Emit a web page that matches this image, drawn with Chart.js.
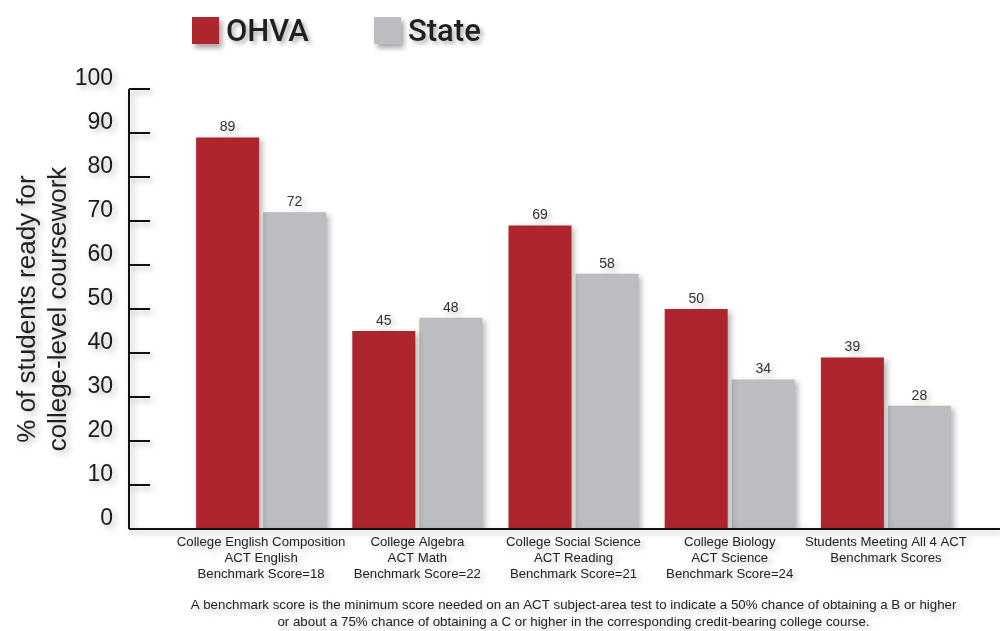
<!DOCTYPE html>
<html>
<head>
<meta charset="utf-8">
<script src="https://cdn.jsdelivr.net/npm/chart.js@4/dist/chart.umd.min.js"></script>
<style>
  body { margin: 0; background: #fff; }
  #wrap { position: relative; width: 1000px; height: 631px; }
  #legend { position: absolute; left: 0; top: 0; font-family: Roboto, "Liberation Sans", sans-serif; font-weight: 500; font-size: 31px; color: #231f20; }
  .item { position: absolute; top: 13px; height: 34px; display: flex; align-items: center; white-space: nowrap; text-shadow: 3px 3px 4px rgba(0,0,0,0.3); }
  .box { width: 27px; height: 27px; margin-right: 7px; box-shadow: 3px 4px 5px rgba(0,0,0,0.35); }
</style>
</head>
<body>
<div id="wrap">
  <canvas id="chart" width="1000" height="631"></canvas>
  <div id="legend"></div>
</div>
<script>
// donnees
const categories = [
  ['College English Composition', 'ACT English', 'Benchmark Score=18'],
  ['College Algebra', 'ACT Math', 'Benchmark Score=22'],
  ['College Social Science', 'ACT Reading', 'Benchmark Score=21'],
  ['College Biology', 'ACT Science', 'Benchmark Score=24'],
  ['Students Meeting All 4 ACT', 'Benchmark Scores']
];
const ohva = [89, 45, 69, 50, 39];
const state = [72, 48, 58, 34, 28];
const yTicks = [0, 10, 20, 30, 40, 50, 60, 70, 80, 90, 100];
const yTitle = ['% of students ready for', 'college-level coursework'];
const footnote = [
  'A benchmark score is the minimum score needed on an ACT subject-area test to indicate a 50% chance of obtaining a B or higher',
  'or about a 75% chance of obtaining a C or higher in the corresponding credit-bearing college course.'
];

const RED = '#af252d';
const GREY = '#bcbdc0';
const AXIS_X = 129;

// ombre portee sur tout le dessin
const shadowPlugin = {
  id: 'shadow',
  beforeDraw(chart) {
    const c = chart.ctx;
    c.shadowColor = 'rgba(0,0,0,0.30)';
    c.shadowBlur = 6;
    c.shadowOffsetX = 3;
    c.shadowOffsetY = 3;
  },
  afterDraw(chart) {
    const c = chart.ctx;
    c.shadowColor = 'rgba(0,0,0,0)';
    c.shadowBlur = 0;
    c.shadowOffsetX = 0;
    c.shadowOffsetY = 0;
  }
};

// axes: ligne verticale avec graduations vers l'interieur + ligne de base
const axesPlugin = {
  id: 'axes',
  afterDatasetsDraw(chart) {
    const c = chart.ctx;
    const y = chart.scales.y;
    const y0 = y.getPixelForValue(0);
    const yTop = y.getPixelForValue(100);
    c.save();
    c.strokeStyle = '#111';
    c.lineWidth = 2;
    c.beginPath();
    c.moveTo(AXIS_X, yTop);
    c.lineTo(AXIS_X, y0);
    c.moveTo(AXIS_X, y0);
    c.lineTo(chart.width, y0);
    y.ticks.forEach(t => {
      const py = y.getPixelForValue(t.value);
      c.moveTo(AXIS_X, py);
      c.lineTo(AXIS_X + 21, py);
    });
    c.stroke();

    // valeurs au-dessus des barres
    c.fillStyle = '#333';
    c.font = '14px "Liberation Sans", Arial, sans-serif';
    c.textAlign = 'center';
    c.textBaseline = 'bottom';
    chart.data.datasets.forEach((ds, i) => {
      chart.getDatasetMeta(i).data.forEach((bar, j) => {
        c.fillText(ds.data[j], bar.x, bar.y - 3);
      });
    });
    c.restore();
  }
};

const ctx = document.getElementById('chart').getContext('2d');
const chart = new Chart(ctx, {
  type: 'bar',
  data: {
    labels: categories,
    datasets: [
      { label: 'OHVA', data: ohva, backgroundColor: RED, borderWidth: 0 },
      { label: 'State', data: state, backgroundColor: GREY, borderWidth: 0 }
    ]
  },
  options: {
    responsive: false,
    animation: false,
    layout: { padding: { left: 0, right: 36, top: 89, bottom: 0 } },
    datasets: { bar: { categoryPercentage: 0.858, barPercentage: 0.94 } },
    plugins: {
      legend: { display: false },
      tooltip: { enabled: false },
      subtitle: {
        display: true,
        position: 'bottom',
        fullSize: false,
        text: footnote,
        color: '#222',
        font: { family: '"Liberation Sans", Arial, sans-serif', size: 13.3, lineHeight: '17px' },
        padding: 0
      }
    },
    scales: {
      x: {
        grid: { display: false, drawTicks: false },
        border: { display: false },
        ticks: {
          color: '#222',
          font: { family: '"Liberation Sans", Arial, sans-serif', size: 13.2, lineHeight: '16px' },
          padding: 5,
          maxRotation: 0,
          autoSkip: false
        },
        afterFit(scale) { scale.height = 68; }
      },
      y: {
        min: 0,
        max: 100,
        afterBuildTicks(scale) { scale.ticks = yTicks.map(v => ({ value: v })); },
        grid: { display: false, drawTicks: false },
        border: { display: false },
        ticks: {
          color: '#1a1a1a',
          font: { family: '"Liberation Sans", Arial, sans-serif', size: 23 },
          padding: 70,
          labelOffset: -10
        },
        title: {
          display: true,
          text: yTitle,
          color: '#231f20',
          font: { family: '"Liberation Sans", Arial, sans-serif', size: 26, lineHeight: '31px' },
          padding: { top: 12, bottom: 0 }
        },
        afterFit(scale) { scale.width = 183; }
      }
    }
  },
  plugins: [shadowPlugin, axesPlugin]
});

// legende HTML placee comme dans l'original
const legendPos = [192, 374];
const legendEl = document.getElementById('legend');
chart.data.datasets.forEach((ds, i) => {
  const item = document.createElement('div');
  item.className = 'item';
  item.style.left = legendPos[i] + 'px';
  const box = document.createElement('span');
  box.className = 'box';
  box.style.background = ds.backgroundColor;
  const txt = document.createElement('span');
  txt.textContent = ds.label;
  item.appendChild(box);
  item.appendChild(txt);
  legendEl.appendChild(item);
});
</script>
</body>
</html>
